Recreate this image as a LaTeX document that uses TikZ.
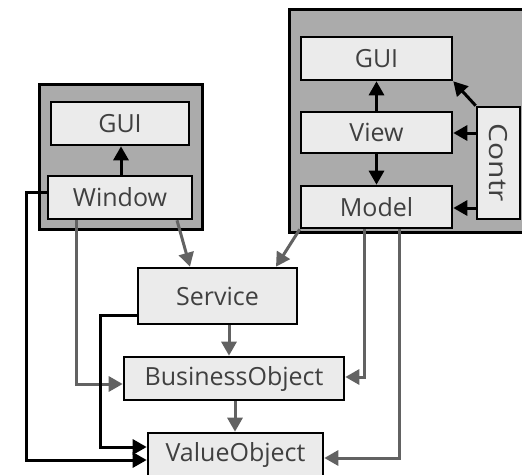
\documentclass[tikz,border=0pt]{standalone}
\usepackage{fontspec}
\setmainfont{Open Sans}
\usepackage{graphicx}
\usetikzlibrary{arrows.meta}
\definecolor{panel}{HTML}{ABABAB}
\definecolor{boxfill}{HTML}{EBEBEB}
\definecolor{link}{HTML}{626262}
\definecolor{label}{HTML}{404040}
\begin{document}
\begin{tikzpicture}[x=1pt,y=-1pt,
  panelbox/.style={draw=black,line width=3pt,fill=panel},
  part/.style={draw=black,line width=2.6pt,fill=boxfill,text=label,inner sep=0pt,
    font=\fontsize{25}{28}\selectfont},
  uses/.style={draw=link,line width=3pt,-{Triangle[length=14pt,width=15pt]}},
  owns/.style={draw=black,line width=3pt,-{Triangle[length=14pt,width=15pt]}}]
\useasboundingbox (0,0) rectangle (522,474);
\clip (0,0) rectangle (522,474);

% containers
\draw[panelbox] (39,84) rectangle (202,229);
\draw[panelbox] (289,9) rectangle (540,232);

% left container
\node[part,minimum width=138pt,minimum height=43pt] (gui1) at (120,123.5) {GUI};
\node[part,minimum width=144pt,minimum height=43pt] (win) at (120,197.5) {Window};

% right container
\node[part,minimum width=151pt,minimum height=43pt] (gui2) at (376.5,58.5) {GUI};
\node[part,minimum width=151pt,minimum height=41pt] (view) at (376.5,132.5) {View};
\node[part,minimum width=151pt,minimum height=42pt] (model) at (376.5,207) {Model};
\node[part,minimum width=43pt,minimum height=112pt] (contr) at (498.5,163)
  {\rotatebox{-90}{\scalebox{1.2}[1]{Contr}}};

% layers
\node[part,minimum width=159pt,minimum height=56pt] (svc) at (217.5,296) {Service};
\node[part,minimum width=220pt,minimum height=43pt] (bo) at (234,378.5) {BusinessObject};
\node[part,minimum width=175pt,minimum height=44pt] (vo) at (235.5,455) {ValueObject};

% arrows inside the containers
\draw[owns] (win.north -| 121,0) -- (gui1.south -| 121,0);
\draw[owns] (view.north) -- (gui2.south);
\draw[owns] (view.south) -- (model.north);
\draw[owns] (contr.west |- 0,133) -- (view.east |- 0,133);
\draw[owns] (contr.west |- 0,208) -- (model.east |- 0,208);
\draw[owns] (contr.north west) -- (gui2.south east);

% dependencies between layers
\draw[uses] (win.south -| 76,0) |- ([yshift=-5.5pt]bo.west);
\draw[uses] (win.south -| 177,0) -- (svc.north -| 190,0);
\draw[uses] (model.south west) -- (svc.north -| 276,0);
\draw[uses] (svc.south -| 229,0) -- (bo.north -| 229,0);
\draw[uses] (bo.south -| 235,0) -- (vo.north -| 235,0);
\draw[uses] (model.south -| 364,0) |- ([yshift=1.5pt]bo.east);
\draw[uses] (model.south -| 399,0) |- ([yshift=-3pt]vo.east);

% direct links to ValueObject
\draw[owns] (win.west |- 0,192) -| (26,460) -- (vo.west |- 0,460);
\draw[owns] (svc.west |- 0,315) -| (100,447) -- (vo.west |- 0,447);
\end{tikzpicture}
\end{document}
